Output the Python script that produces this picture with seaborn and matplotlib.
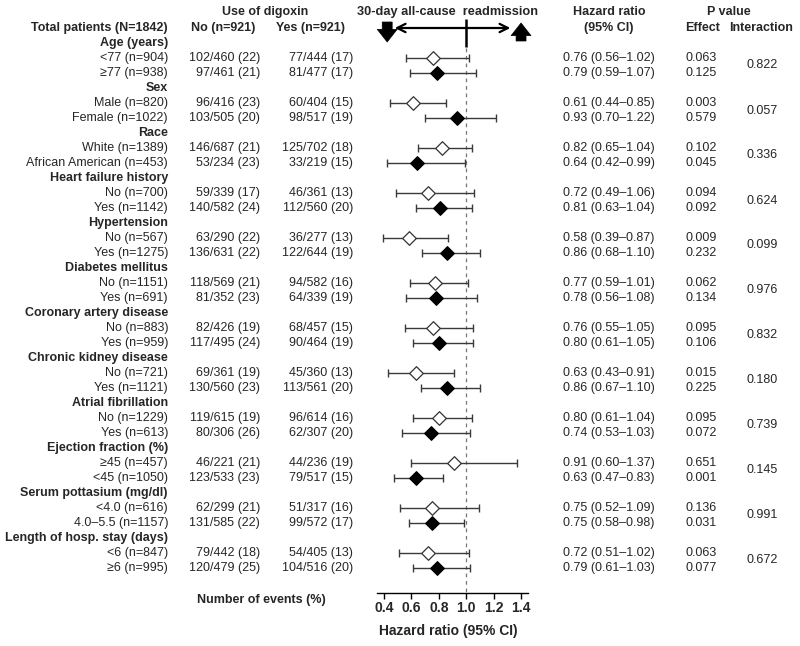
import numpy as np
import pandas as pd
import matplotlib
matplotlib.use("Agg")
import matplotlib.pyplot as plt
import matplotlib.transforms as mtransforms
import seaborn as sns

# ---------------- data ----------------
groups = ["Age (years)", "Sex", "Race", "Heart failure history", "Hypertension",
          "Diabetes mellitus", "Coronary artery disease", "Chronic kidney disease",
          "Atrial fibrillation", "Ejection fraction (%)", "Serum pottasium (mg/dl)",
          "Length of hosp. stay (days)"]
sub_labels = ["<77 (n=904)", "≥77 (n=938)", "Male (n=820)", "Female (n=1022)",
              "White (n=1389)", "African American (n=453)", "No (n=700)", "Yes (n=1142)",
              "No (n=567)", "Yes (n=1275)", "No (n=1151)", "Yes (n=691)",
              "No (n=883)", "Yes (n=959)", "No (n=721)", "Yes (n=1121)",
              "No (n=1229)", "Yes (n=613)", "≥45 (n=457)", "<45 (n=1050)",
              "<4.0 (n=616)", "4.0–5.5 (n=1157)", "<6 (n=847)", "≥6 (n=995)"]
no_events = ["102/460 (22)", "97/461 (21)", "96/416 (23)", "103/505 (20)",
             "146/687 (21)", "53/234 (23)", "59/339 (17)", "140/582 (24)",
             "63/290 (22)", "136/631 (22)", "118/569 (21)", "81/352 (23)",
             "82/426 (19)", "117/495 (24)", "69/361 (19)", "130/560 (23)",
             "119/615 (19)", "80/306 (26)", "46/221 (21)", "123/533 (23)",
             "62/299 (21)", "131/585 (22)", "79/442 (18)", "120/479 (25)"]
yes_events = ["77/444 (17)", "81/477 (17)", "60/404 (15)", "98/517 (19)",
              "125/702 (18)", "33/219 (15)", "46/361 (13)", "112/560 (20)",
              "36/277 (13)", "122/644 (19)", "94/582 (16)", "64/339 (19)",
              "68/457 (15)", "90/464 (19)", "45/360 (13)", "113/561 (20)",
              "96/614 (16)", "62/307 (20)", "44/236 (19)", "79/517 (15)",
              "51/317 (16)", "99/572 (17)", "54/405 (13)", "104/516 (20)"]
hr = [0.76, 0.79, 0.61, 0.93, 0.82, 0.64, 0.72, 0.81, 0.58, 0.86, 0.77, 0.78,
      0.76, 0.80, 0.63, 0.86, 0.80, 0.74, 0.91, 0.63, 0.75, 0.75, 0.72, 0.79]
ci_lo = [0.56, 0.59, 0.44, 0.70, 0.65, 0.42, 0.49, 0.63, 0.39, 0.68, 0.59, 0.56,
         0.55, 0.61, 0.43, 0.67, 0.61, 0.53, 0.60, 0.47, 0.52, 0.58, 0.51, 0.61]
ci_hi = [1.02, 1.07, 0.85, 1.22, 1.04, 0.99, 1.06, 1.04, 0.87, 1.10, 1.01, 1.08,
         1.05, 1.05, 0.91, 1.10, 1.04, 1.03, 1.37, 0.83, 1.09, 0.98, 1.02, 1.03]
p_effect = ["0.063", "0.125", "0.003", "0.579", "0.102", "0.045", "0.094", "0.092",
            "0.009", "0.232", "0.062", "0.134", "0.095", "0.106", "0.015", "0.225",
            "0.095", "0.072", "0.651", "0.001", "0.136", "0.031", "0.063", "0.077"]
p_interaction = ["0.822", "0.057", "0.336", "0.624", "0.099", "0.976",
                 "0.832", "0.180", "0.739", "0.145", "0.991", "0.672"]
x_ticks = [0.4, 0.6, 0.8, 1.0, 1.2, 1.4]
tick_labels = ["0.4", "0.6", "0.8", "1.0", "1.2", "1.4"]

# ---------------- style ----------------
sns.set_theme(style="white")
plt.rcParams["font.family"] = ["Liberation Sans", "DejaVu Sans"]

W, H = 800, 646
fig = plt.figure(figsize=(W / 100, H / 100), dpi=100)

# axis: HR 0.35..1.45 over pixels ~377..528; rows: y_px = 28 + 15*row
x0_px, x1_px = 377.2, 527.9
ax = fig.add_axes([x0_px / W, 0, (x1_px - x0_px) / W, 1])
ax.set_xlim(0.35, 1.45)
row_top = -28 / 15
row_bot = (H - 28) / 15
ax.set_ylim(row_bot, row_top)
ax.patch.set_alpha(0)

n_sub = len(sub_labels)
sub_rows = []
for g in range(len(groups)):
    sub_rows += [2 + 3 * g, 3 + 3 * g]
df = pd.DataFrame({
    "row": sub_rows, "hr": hr, "lo": ci_lo, "hi": ci_hi,
    "kind": ["first" if i % 2 == 0 else "second" for i in range(n_sub)],
})

# reference lines
axis_row = (593 - 28) / 15
ax.vlines(1.0, (48 - 28) / 15, axis_row, colors="#777777", linestyles=(0, (3, 3)), lw=0.9)
ax.vlines(1.0, (19 - 28) / 15, (47 - 28) / 15, colors="black", lw=1.8)

# error bars
ax.errorbar(df["hr"], df["row"], xerr=[df["hr"] - df["lo"], df["hi"] - df["hr"]],
            fmt="none", ecolor="#3a3a3a", elinewidth=1.0, capsize=2.6, capthick=1.0, zorder=2)

# diamonds
first = df[df["kind"] == "first"]
second = df[df["kind"] == "second"]
sns.scatterplot(data=first, x="hr", y="row", marker="D", s=48, color="white",
                edgecolor="#333333", linewidth=0.9, ax=ax, zorder=3, legend=False)
sns.scatterplot(data=second, x="hr", y="row", marker="D", s=48, color="black",
                edgecolor="black", linewidth=0.9, ax=ax, zorder=3, legend=False)

# bottom axis
for s in ["left", "right", "top"]:
    ax.spines[s].set_visible(False)
ax.spines["bottom"].set_position(("data", axis_row))
ax.spines["bottom"].set_color("black")
ax.spines["bottom"].set_linewidth(1.0)
ax.set_yticks([])
ax.set_xticks(x_ticks)
ax.set_xticklabels(tick_labels, fontsize=10, fontweight="bold")
ax.tick_params(axis="x", direction="out", length=4, width=1.0, color="black",
               pad=2, bottom=True)
ax.set_xlabel("")
ax.set_ylabel("")
ax.text(0.87, (631 - 28) / 15, "Hazard ratio (95% CI)", ha="center", va="center",
        fontsize=10, fontweight="bold", clip_on=False)

# header arrows
ax.annotate("", xy=(0.478, 0), xytext=(1.322, 0),
            arrowprops=dict(arrowstyle="<->,head_length=0.5,head_width=0.25",
                            lw=1.6, color="black", shrinkA=0, shrinkB=0))
block = "simple,head_length=0.7,head_width=1.1,tail_width=0.55"
ax.annotate("", xy=(0.423, (42 - 28) / 15), xytext=(0.423, (22 - 28) / 15),
            arrowprops=dict(arrowstyle=block, mutation_scale=13,
                            fc="black", ec="black", lw=0.5, shrinkA=0, shrinkB=0))
ax.annotate("", xy=(1.40, (23 - 28) / 15), xytext=(1.40, (41 - 28) / 15),
            arrowprops=dict(arrowstyle=block, mutation_scale=13,
                            fc="black", ec="black", lw=0.5, shrinkA=0, shrinkB=0))
ax.text(0.86, (12 - 28) / 15, "30-day all-cause  readmission", ha="center", va="center",
        fontsize=9.2, fontweight="bold", clip_on=False)

# ---------------- text columns ----------------
tr = mtransforms.blended_transform_factory(fig.transFigure, ax.transData)
fs = 9


def put(xpx, row, s, ha="left", bold=False, size=fs):
    ax.text(xpx / W, row, s, transform=tr, ha=ha, va="center", fontsize=size,
            fontweight="bold" if bold else "normal", clip_on=False)


hdr_row = (12 - 28) / 15
put(168, 0, "Total patients (N=1842)", ha="right", bold=True)
put(265, hdr_row, "Use of digoxin", ha="center", bold=True)
put(191, 0, "No (n=921)", bold=True)
put(276, 0, "Yes (n=921)", bold=True)
put(609, hdr_row, "Hazard ratio", ha="center", bold=True)
put(609, 0, "(95% CI)", ha="center", bold=True)
put(729, hdr_row, "P value", ha="center", bold=True)
put(703, 0, "Effect", ha="center", bold=True)
put(761, 0, "Interaction", ha="center", bold=True)

for g, name in enumerate(groups):
    put(168, 1 + 3 * g, name, ha="right", bold=True)
    put(762, 2.5 + 3 * g, p_interaction[g], ha="center")

for i in range(n_sub):
    r = sub_rows[i]
    put(168, r, sub_labels[i], ha="right")
    put(260, r, no_events[i], ha="right")
    put(353, r, yes_events[i], ha="right")
    put(563, r, f"{hr[i]:.2f} ({ci_lo[i]:.2f}–{ci_hi[i]:.2f})")
    put(685, r, p_effect[i])

put(261, (600 - 28) / 15, "Number of events (%)", ha="center", bold=True)

fig.savefig("out.png", dpi=100, facecolor="white")
